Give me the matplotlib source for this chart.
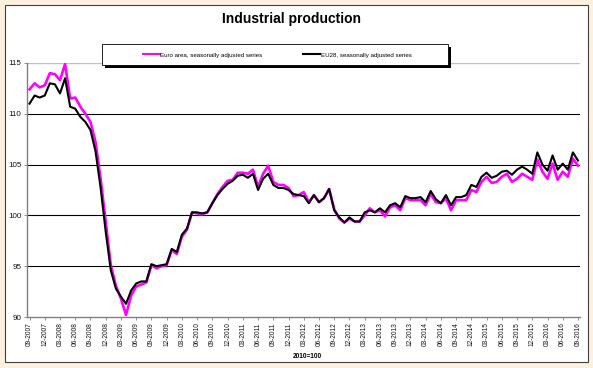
import numpy as np
import matplotlib
matplotlib.use("Agg")
import matplotlib.pyplot as plt
from matplotlib.patches import Rectangle
from matplotlib.lines import Line2D

plt.rcParams['font.family'] = ['Liberation Sans', 'DejaVu Sans']

# monthly index, 09-2007 .. 09-2016 (2010=100)
euro_area = [
    112.4, 113.0, 112.6, 112.8, 114.0, 113.9, 113.3, 114.9, 111.5, 111.6,
    110.7, 110.0, 109.2, 107.2, 103.6, 99.4, 95.1, 93.1, 91.8, 90.2,
    92.1, 93.0, 93.2, 93.4, 95.1, 94.8, 95.0, 95.1, 96.6, 96.2,
    97.9, 98.6, 100.3, 100.2, 100.1, 100.3, 101.2, 102.1, 102.8, 103.4,
    103.5, 104.2, 104.2, 104.1, 104.5, 102.8, 104.1, 104.9, 103.3, 103.0,
    103.0, 102.7, 101.9, 102.0, 102.3, 101.3, 102.0, 101.3, 101.7, 102.6,
    100.6, 99.7, 99.3, 99.7, 99.4, 99.4, 100.0, 100.7, 100.3, 100.5,
    99.9, 100.8, 101.0, 100.5, 101.7, 101.5, 101.5, 101.5, 101.0, 102.1,
    101.3, 101.2, 101.7, 100.5, 101.5, 101.5, 101.5, 102.5, 102.3, 103.3,
    103.8, 103.2, 103.3, 103.8, 104.1, 103.3, 103.6, 104.1, 103.8, 103.5,
    105.5, 104.3, 103.6, 105.1, 103.5, 104.3, 103.8, 105.6, 104.9,
]
eu28 = [
    111.0, 111.8, 111.6, 111.8, 113.0, 112.9, 112.0, 113.5, 110.7, 110.5,
    109.7, 109.2, 108.4, 106.3, 102.7, 98.4, 94.6, 92.8, 92.0, 91.3,
    92.6, 93.3, 93.5, 93.5, 95.2, 95.0, 95.1, 95.2, 96.7, 96.4,
    98.1, 98.7, 100.3, 100.3, 100.2, 100.3, 101.2, 102.0, 102.6, 103.1,
    103.4, 103.9, 104.0, 103.7, 104.1, 102.5, 103.6, 104.1, 103.0, 102.7,
    102.7, 102.5, 102.1, 102.0, 101.9, 101.2, 102.0, 101.3, 101.7, 102.6,
    100.5, 99.8, 99.3, 99.8, 99.4, 99.4, 100.3, 100.5, 100.3, 100.7,
    100.3, 101.0, 101.2, 100.8, 101.9, 101.7, 101.7, 101.8, 101.3, 102.4,
    101.6, 101.2, 102.0, 101.0, 101.8, 101.8, 102.0, 103.0, 102.8, 103.8,
    104.2, 103.7, 103.9, 104.3, 104.4, 104.0, 104.5, 104.8, 104.5, 104.1,
    106.2, 105.0, 104.4, 105.9, 104.5, 105.1, 104.5, 106.2, 105.4,
]
tick_labels = [
    "09-2007", "12-2007", "03-2008", "06-2008", "09-2008", "12-2008",
    "03-2009", "06-2009", "09-2009", "12-2009", "03-2010", "06-2010",
    "09-2010", "12-2010", "03-2011", "06-2011", "09-2011", "12-2011",
    "03-2012", "06-2012", "09-2012", "12-2012", "03-2013", "06-2013",
    "09-2013", "12-2013", "03-2014", "06-2014", "09-2014", "12-2014",
    "03-2015", "06-2015", "09-2015", "12-2015", "03-2016", "06-2016",
    "09-2016",
]
y_ticks = [90, 95, 100, 105, 110, 115]

W, H = 593, 368
bg = '#FCF0DE'
fig = plt.figure(figsize=(W / 100, H / 100), dpi=100, facecolor=bg)

# white chart area with border
fig.patches.append(Rectangle((5 / W, 1 - 362 / H), 583 / W, 357 / H,
                             transform=fig.transFigure, facecolor='white',
                             edgecolor='#404040', lw=0.8, zorder=-1))

ax = fig.add_axes([27 / W, 1 - 317 / H, 553 / W, 254 / H])
ax.set_facecolor('white')
ax.set_zorder(1)

x = np.arange(len(euro_area))
ax.plot(x, euro_area, color='#FF00FF', lw=1.9, zorder=3)
ax.plot(x, eu28, color='black', lw=1.5, zorder=4)

ax.set_xlim(-0.5, 108.4)
ax.set_ylim(90, 115)
for v in y_ticks[1:-1]:
    ax.axhline(v, color='black', lw=0.8, zorder=1)
ax.axhline(115, color='#C0C0C0', lw=1.0, zorder=1)

for s in ['top', 'right']:
    ax.spines[s].set_visible(False)
for s in ['left', 'bottom']:
    ax.spines[s].set_color('#808080')
    ax.spines[s].set_linewidth(1.0)

ax.set_yticks(y_ticks)
ax.set_yticklabels([str(v) for v in y_ticks], fontsize=5.8)
ax.set_xticks(np.arange(0, len(x), 3))
ax.set_xticklabels(tick_labels, rotation=90, fontsize=4.7)
ax.tick_params(axis='both', direction='out', length=2.5, width=0.6,
               color='#808080', pad=1.5, labelcolor='#111111')

fig.text(292 / W, 1 - 19 / H, 'Industrial production', ha='center',
         va='center', fontsize=10, fontweight='bold')
fig.text(307 / W, 1 - 357 / H, '2010=100', ha='center', va='center',
         fontsize=4.7, fontweight='bold')

# legend box with solid shadow
fig.patches.append(Rectangle((105 / W, 1 - 68 / H), 346 / W, 21 / H,
                             transform=fig.transFigure, facecolor='black',
                             edgecolor='black', lw=0, zorder=5))
fig.patches.append(Rectangle((102 / W, 1 - 65 / H), 346 / W, 21 / H,
                             transform=fig.transFigure, facecolor='white',
                             edgecolor='black', lw=0.6, zorder=6))
handles = [Line2D([], [], color='#FF00FF', lw=1.5),
           Line2D([], [], color='black', lw=1.5)]
leg = fig.legend(handles, ['Euro area, seasonally adjusted series',
                           'EU28, seasonally adjusted series'],
                 loc='center', bbox_to_anchor=(277 / W, 1 - 55 / H),
                 ncol=2, frameon=False, fontsize=4.4, handlelength=2.8,
                 handletextpad=0.1, columnspacing=6.6)
leg.set_zorder(7)

fig.savefig('out.png', dpi=100, facecolor=bg)
